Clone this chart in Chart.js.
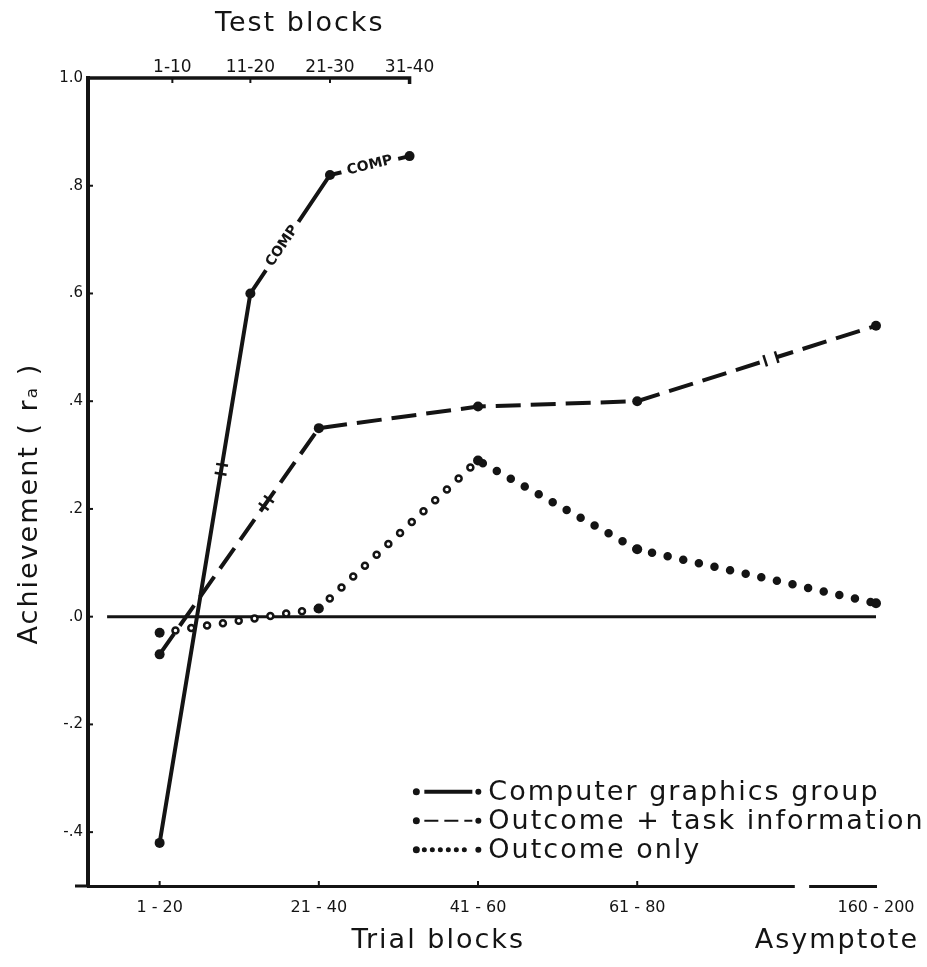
<!DOCTYPE html>
<html>
<head>
<meta charset="utf-8">
<script src="https://cdn.jsdelivr.net/npm/chart.js@4.4.0/dist/chart.umd.min.js"></script>
<style>
  html, body { margin: 0; padding: 0; background: #fff; }
</style>
</head>
<body>
<canvas id="achChart" width="927" height="967"></canvas>
<script>
// ---- data ----
const trialLabels = ['1 - 20', '21 - 40', '41 - 60', '61 - 80', '160 - 200'];
const trialPos = [1, 2, 3, 4, 5.5];
const testLabels = ['1-10', '11-20', '21-30', '31-40'];
const testPos = [1.08, 1.57, 2.07, 2.57];
const yTicks = [-0.4, -0.2, 0, 0.2, 0.4, 0.6, 0.8, 1.0];
const yTickLabels = ['-.4', '-.2', '.0', '.2', '.4', '.6', '.8', '1.0'];

// computer graphics group: first trial block, then test blocks 11-20 .. 31-40
const compX = [trialPos[0], testPos[1], testPos[2], testPos[3]];
const compY = [-0.42, 0.60, 0.82, 0.855];
const taskY = [-0.07, 0.35, 0.39, 0.40, 0.54];
const outcomeY = [-0.03, 0.015, 0.29, 0.125, 0.025];

const ink = '#141414';
const font = '"DejaVu Sans", sans-serif';
const axisGap = [4.99, 5.08];   // break in the bottom axis before the asymptote

const toPts = (xs, ys) => ys.map((y, i) => ({ x: xs[i], y: y }));

// small break marks drawn across a segment
function breakMark(ctx, p0, p1, t, gap) {
  const dx = p1[0] - p0[0], dy = p1[1] - p0[1];
  const len = Math.hypot(dx, dy);
  const ux = dx / len, uy = dy / len;
  const cx = p0[0] + dx * t, cy = p0[1] + dy * t;
  ctx.save();
  if (gap > 0) {
    ctx.strokeStyle = '#fff';
    ctx.lineWidth = 8;
    ctx.beginPath();
    ctx.moveTo(cx - ux * gap / 2, cy - uy * gap / 2);
    ctx.lineTo(cx + ux * gap / 2, cy + uy * gap / 2);
    ctx.stroke();
  }
  ctx.strokeStyle = ink;
  ctx.lineWidth = 2.5;
  const half = Math.max(gap, 9) / 2;
  [-half, half].forEach(o => {
    const bx = cx + ux * o, by = cy + uy * o;
    ctx.beginPath();
    ctx.moveTo(bx - uy * 6, by + ux * 6);
    ctx.lineTo(bx + uy * 6, by - ux * 6);
    ctx.stroke();
  });
  ctx.restore();
}

const figureText = {
  id: 'figureText',
  beforeDatasetsDraw(chart) {
    // zero reference line
    const { ctx, chartArea: ca, scales: { x, y } } = chart;
    ctx.save();
    ctx.strokeStyle = ink;
    ctx.lineWidth = 3;
    ctx.beginPath();
    ctx.moveTo(x.getPixelForValue(0.67), y.getPixelForValue(0));
    ctx.lineTo(ca.right, y.getPixelForValue(0));
    ctx.stroke();
    ctx.restore();
  },
  afterDatasetsDraw(chart) {
    const { ctx, scales: { x, y } } = chart;
    const px = (xv, yv) => [x.getPixelForValue(xv), y.getPixelForValue(yv)];
    const comp = compX.map((v, i) => px(v, compY[i]));
    const task = trialPos.map((v, i) => px(v, taskY[i]));

    // COMP labels written into the line
    ctx.save();
    ctx.font = 'bold 14px ' + font;
    ctx.textAlign = 'center';
    ctx.textBaseline = 'middle';
    [[1, 2, 0.4], [2, 3, 0.5]].forEach(([a, b, t]) => {
      const [x0, y0] = comp[a], [x1, y1] = comp[b];
      ctx.save();
      ctx.translate(x0 + (x1 - x0) * t, y0 + (y1 - y0) * t);
      ctx.rotate(Math.atan2(y1 - y0, x1 - x0));
      const w = ctx.measureText('COMP').width;
      ctx.fillStyle = '#fff';
      ctx.fillRect(-w / 2 - 6, -8, w + 12, 16);
      ctx.fillStyle = ink;
      ctx.fillText('COMP', 0, 0);
      ctx.restore();
    });
    ctx.restore();

    breakMark(ctx, comp[0], comp[1], 0.68, 0);
    breakMark(ctx, task[0], task[1], 0.67, 0);
    breakMark(ctx, task[3], task[4], 0.56, 12);
  },
  afterDraw(chart) {
    const { ctx, chartArea: ca, scales: { x, x2, y } } = chart;
    ctx.save();

    // top (test block) axis only runs to the last test block
    const xEnd = x2.getPixelForValue(testPos[testPos.length - 1]);
    ctx.strokeStyle = ink;
    ctx.lineWidth = 3.5;
    ctx.beginPath();
    ctx.moveTo(ca.left - 2, ca.top);
    ctx.lineTo(xEnd, ca.top);
    ctx.lineTo(xEnd, ca.top + 6);
    ctx.stroke();
    ctx.lineWidth = 2;
    testPos.slice(0, -1).forEach(v => {
      const tx = x2.getPixelForValue(v);
      ctx.beginPath();
      ctx.moveTo(tx, ca.top);
      ctx.lineTo(tx, ca.top + 5);
      ctx.stroke();
    });

    // small ticks on the inside of the y axis
    yTicks.forEach(v => {
      const ty = y.getPixelForValue(v);
      ctx.beginPath();
      ctx.moveTo(ca.left, ty);
      ctx.lineTo(ca.left + 5, ty);
      ctx.stroke();
    });

    // bottom axis: extend left, small ticks, break before asymptote
    ctx.lineWidth = 3;
    ctx.beginPath();
    ctx.moveTo(ca.left - 13, ca.bottom);
    ctx.lineTo(ca.left, ca.bottom);
    ctx.stroke();
    ctx.lineWidth = 2;
    trialPos.slice(0, -1).forEach(v => {
      const tx = x.getPixelForValue(v);
      ctx.beginPath();
      ctx.moveTo(tx, ca.bottom);
      ctx.lineTo(tx, ca.bottom - 5);
      ctx.stroke();
    });
    ctx.fillStyle = '#fff';
    const g0 = x.getPixelForValue(axisGap[0]), g1 = x.getPixelForValue(axisGap[1]);
    ctx.fillRect(g0, ca.bottom - 4, g1 - g0, 8);

    // axis titles
    ctx.fillStyle = ink;
    ctx.font = '27px ' + font;
    ctx.letterSpacing = '2px';
    ctx.textAlign = 'center';
    ctx.textBaseline = 'middle';
    ctx.fillText('Test blocks', x2.getPixelForValue(1.88), 24);
    ctx.fillText('Trial blocks', x.getPixelForValue(2.75), ca.bottom + 55);
    ctx.textAlign = 'right';
    ctx.fillText('Asymptote', chart.width - 8, ca.bottom + 55);

    ctx.save();
    ctx.translate(30, y.getPixelForValue(0.21));
    ctx.rotate(-Math.PI / 2);
    ctx.textAlign = 'center';
    ctx.fillText('Achievement ( rₐ )', 0, 0);
    ctx.restore();

    // legend in lower right of the plot
    const items = chart.data.datasets.filter(d => !d.label.startsWith('_'));
    const lx = x.getPixelForValue(2.6), tx = lx + 74;
    const ly = y.getPixelForValue(-0.325);
    ctx.textAlign = 'left';
    items.forEach((d, i) => {
      const yy = ly + i * 29;
      ctx.strokeStyle = ink;
      ctx.fillStyle = ink;
      ctx.lineWidth = d.legendWidth;
      ctx.lineCap = d.borderCapStyle || 'butt';
      ctx.setLineDash(d.legendDash);
      ctx.beginPath();
      ctx.moveTo(lx + 10, yy);
      ctx.lineTo(lx + 58, yy);
      ctx.stroke();
      ctx.setLineDash([]);
      ctx.beginPath();
      ctx.arc(lx + 2, yy, 3.5, 0, Math.PI * 2);
      ctx.arc(lx + 64, yy, 3, 0, Math.PI * 2);
      ctx.fill();
      ctx.fillText(d.label, tx, yy + 1);
    });
    ctx.restore();
  }
};

const ctx = document.getElementById('achChart').getContext('2d');

const achChart = new Chart(ctx, {
  type: 'line',
  data: {
    datasets: [
      {
        label: 'Computer graphics group',
        data: toPts(compX, compY),
        borderColor: ink,
        borderWidth: 4,
        pointRadius: 5,
        pointBackgroundColor: ink,
        pointBorderWidth: 0,
        legendWidth: 4,
        legendDash: [],
        clip: false
      },
      {
        label: 'Outcome + task information',
        data: toPts(trialPos, taskY),
        borderColor: ink,
        borderWidth: 4,
        borderDash: [25, 10],
        pointRadius: 5,
        pointBackgroundColor: ink,
        pointBorderWidth: 0,
        legendWidth: 2,
        legendDash: [14, 6],
        clip: false
      },
      {
        label: 'Outcome only',
        data: toPts(trialPos, outcomeY),
        borderColor: ink,
        borderWidth: 8.5,
        borderDash: [0, 16],
        borderCapStyle: 'round',
        pointRadius: 0,
        legendWidth: 5,
        legendDash: [0, 8],
        clip: false,
        order: 2
      },
      {
        // white centres of the hollow dots on the rising part, plus the markers
        label: '_hollow',
        data: toPts(trialPos, outcomeY),
        borderColor: '#fff',
        borderWidth: 3.5,
        borderDash: [0, 16],
        borderCapStyle: 'round',
        segment: {
          borderColor: c => c.p1DataIndex <= 2 ? '#fff' : 'rgba(0,0,0,0)'
        },
        pointRadius: 5,
        pointBackgroundColor: ink,
        pointBorderWidth: 0,
        clip: false,
        order: 1
      }
    ]
  },
  options: {
    responsive: false,
    animation: false,
    layout: { padding: { left: 0, right: 51, top: 0, bottom: 0 } },
    plugins: {
      legend: { display: false },
      tooltip: { enabled: false }
    },
    scales: {
      x: {
        type: 'linear',
        position: 'bottom',
        min: 0.55,
        max: 5.5,
        afterBuildTicks: s => { s.ticks = trialPos.map(v => ({ value: v })); },
        afterFit: s => { s.height = 81; },
        ticks: {
          autoSkip: false,
          maxRotation: 0,
          padding: 12,
          color: ink,
          font: { family: font, size: 16 },
          callback: (v, i) => trialLabels[i]
        },
        grid: { display: false, drawTicks: false },
        border: { display: true, color: ink, width: 3 }
      },
      x2: {
        type: 'linear',
        position: 'top',
        min: 0.55,
        max: 5.5,
        afterBuildTicks: s => { s.ticks = testPos.map(v => ({ value: v })); },
        afterFit: s => { s.height = 78; },
        ticks: {
          autoSkip: false,
          maxRotation: 0,
          padding: 0,
          color: ink,
          font: { family: font, size: 17 },
          callback: (v, i) => testLabels[i]
        },
        grid: { display: false, drawTicks: false },
        border: { display: false }
      },
      y: {
        type: 'linear',
        min: -0.5,
        max: 1.0,
        afterBuildTicks: s => { s.ticks = yTicks.map(v => ({ value: v })); },
        afterFit: s => { s.width = 88; },
        ticks: {
          padding: 5,
          color: ink,
          font: { family: font, size: 15 },
          callback: (v, i) => yTickLabels[i]
        },
        grid: { display: false, drawTicks: false },
        border: { display: true, color: ink, width: 4 }
      }
    }
  },
  plugins: [figureText]
});
</script>
</body>
</html>
